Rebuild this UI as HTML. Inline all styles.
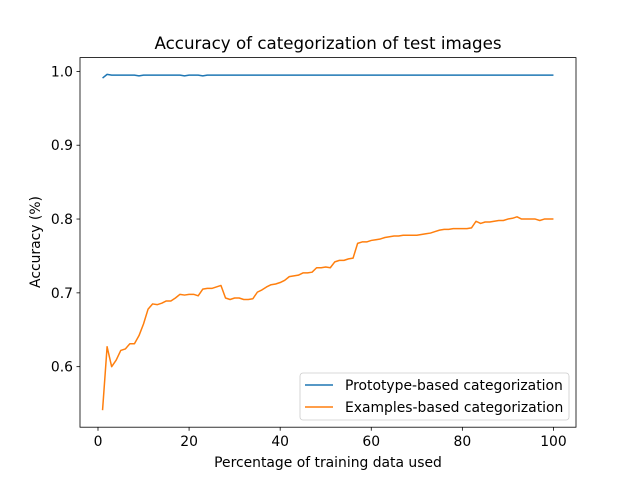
<!DOCTYPE html>
<html><head><meta charset="utf-8"><style>
body{margin:0;background:#fff;}
svg text{font-family:"DejaVu Sans","Liberation Sans",sans-serif;fill:#000;}
</style></head><body>
<svg id="chart" width="640" height="480" xmlns="http://www.w3.org/2000/svg">
<rect width="640" height="480" fill="#fff"/>
<text x="328" y="49" font-size="16.7" text-anchor="middle">Accuracy of categorization of test images</text>
<g id="xticks"></g><g id="yticks"></g>
<g id="lines"></g>
<rect x="80" y="57.6" width="496" height="369.6" fill="none" stroke="#000" stroke-width="0.8"/>
<text x="328" y="467" font-size="13.9" text-anchor="middle">Percentage of training data used</text>
<text transform="translate(40,242) rotate(-90)" font-size="13.9" text-anchor="middle">Accuracy (%)</text>
<g>
<rect x="300" y="373" width="269" height="47" rx="3" fill="#fff" fill-opacity="0.8" stroke="#ccc" stroke-width="0.8"/>
<line x1="305" y1="385" x2="333" y2="385" stroke="#1f77b4" stroke-width="1.5"/>
<text x="345" y="390" font-size="13.9">Prototype-based categorization</text>
<line x1="305" y1="407" x2="333" y2="407" stroke="#ff7f0e" stroke-width="1.5"/>
<text x="345" y="412" font-size="13.9">Examples-based categorization</text>
</g>
</svg>
<script>
const xTicks=[0,20,40,60,80,100];
const yTicks=[0.6,0.7,0.8,0.9,1.0];
const yTickLabels=["0.6","0.7","0.8","0.9","1.0"];
const prototypeValues=[0.991,0.996,0.995,0.995,0.995,0.995,0.995,0.995,0.994,0.995,0.995,0.995,0.995,0.995,0.995,0.995,0.995,0.995,0.994,0.995,0.995,0.995,0.994,0.995,0.995,0.995,0.995,0.995,0.995,0.995,0.995,0.995,0.995,0.995,0.995,0.995,0.995,0.995,0.995,0.995,0.995,0.995,0.995,0.995,0.995,0.995,0.995,0.995,0.995,0.995,0.995,0.995,0.995,0.995,0.995,0.995,0.995,0.995,0.995,0.995,0.995,0.995,0.995,0.995,0.995,0.995,0.995,0.995,0.995,0.995,0.995,0.995,0.995,0.995,0.995,0.995,0.995,0.995,0.995,0.995,0.995,0.995,0.995,0.995,0.995,0.995,0.995,0.995,0.995,0.995,0.995,0.995,0.995,0.995,0.995,0.995,0.995,0.995,0.995,0.995];
const examplesValues=[0.541,0.627,0.600,0.609,0.622,0.624,0.631,0.631,0.642,0.658,0.678,0.685,0.684,0.686,0.689,0.689,0.693,0.698,0.697,0.698,0.698,0.696,0.705,0.706,0.706,0.708,0.710,0.693,0.691,0.693,0.693,0.691,0.691,0.692,0.701,0.704,0.708,0.711,0.712,0.714,0.717,0.722,0.723,0.724,0.727,0.727,0.728,0.734,0.734,0.735,0.734,0.742,0.744,0.744,0.746,0.747,0.767,0.769,0.769,0.771,0.772,0.773,0.775,0.776,0.777,0.777,0.778,0.778,0.778,0.778,0.779,0.780,0.781,0.783,0.785,0.786,0.786,0.787,0.787,0.787,0.787,0.788,0.797,0.794,0.796,0.796,0.797,0.798,0.798,0.800,0.801,0.803,0.800,0.800,0.800,0.800,0.798,0.800,0.800,0.800];
const NS="http://www.w3.org/2000/svg";
const X0=-3.95,X1=104.95,Y0=0.518,Y1=1.0187;
function xs(v){return 80+(v-X0)/(X1-X0)*496;}
function ys(v){return 427.2-(v-Y0)/(Y1-Y0)*369.6;}
const xt=document.getElementById('xticks'),yt=document.getElementById('yticks'),lg=document.getElementById('lines');
xTicks.forEach(t=>{
 const l=document.createElementNS(NS,'line');
 l.setAttribute('x1',xs(t));l.setAttribute('x2',xs(t));l.setAttribute('y1',427.2);l.setAttribute('y2',430.7);l.setAttribute('stroke','#000');l.setAttribute('stroke-width','0.8');
 
 
 xt.appendChild(l);
 const tx=document.createElementNS(NS,'text');
 tx.setAttribute('x',xs(t));tx.setAttribute('y',446);tx.setAttribute('font-size','13.9');tx.setAttribute('text-anchor','middle');tx.textContent=t;
 
 
 xt.appendChild(tx);
});
yTicks.forEach((t,i)=>{
 const l=document.createElementNS(NS,'line');
 l.setAttribute('x1',76.5);l.setAttribute('x2',80);l.setAttribute('y1',ys(t));l.setAttribute('y2',ys(t));l.setAttribute('stroke','#000');l.setAttribute('stroke-width','0.8');
 
 
 yt.appendChild(l);
 const tx=document.createElementNS(NS,'text');
 tx.setAttribute('x',73);tx.setAttribute('y',ys(t)+5);tx.setAttribute('font-size','13.9');tx.setAttribute('text-anchor','end');tx.textContent=yTickLabels[i];
 
 
 yt.appendChild(tx);
});
function line(vals,color,name){
 const p=document.createElementNS(NS,'polyline');
 p.setAttribute('points',vals.map((v,i)=>xs(i+1).toFixed(2)+','+ys(v).toFixed(2)).join(' '));
 p.setAttribute('fill','none');p.setAttribute('stroke',color);p.setAttribute('stroke-width','1.5');p.setAttribute('stroke-linejoin','round');
 
 
 lg.appendChild(p);
}
line(prototypeValues,'#1f77b4','prototype-line');
line(examplesValues,'#ff7f0e','examples-line');
</script>
</body></html>
